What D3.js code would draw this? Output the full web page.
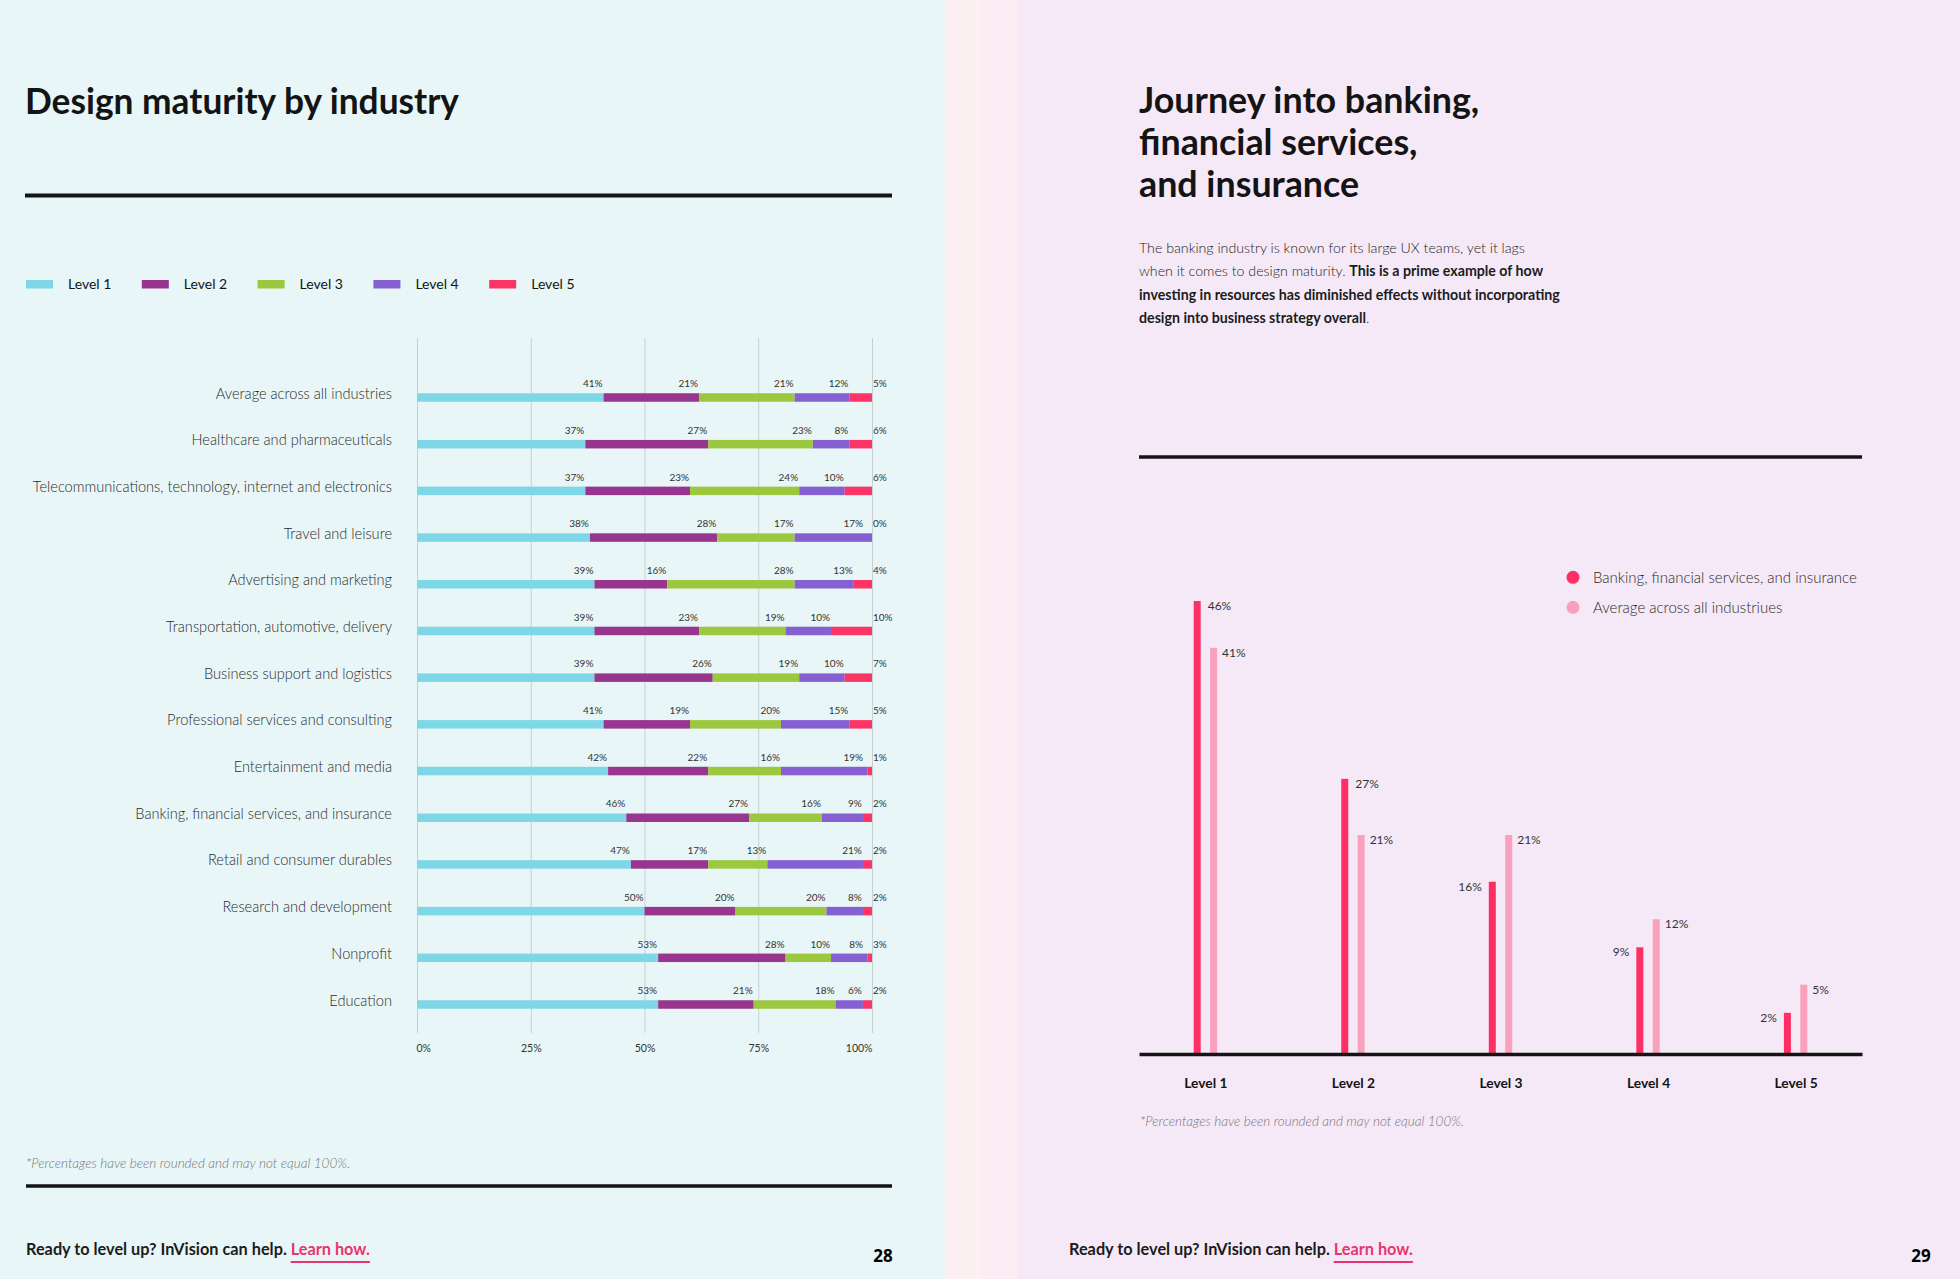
<!DOCTYPE html>
<html lang="en">
<head>
    <meta charset="UTF-8">
    <title>Design maturity by industry</title>
    <script src="https://d3js.org/d3.v7.min.js"></script>
    <style>
        body { margin: 0; overflow: hidden; background: #e8f6f7; }
        svg { display: block; font-family: Lato, "Open Sans", sans-serif; }
    </style>
</head>
<body>
    <div id="container"></div>
    <script>
        // ---- left page data ----
        const levels = ["Level 1", "Level 2", "Level 3", "Level 4", "Level 5"];
        const levelColors = ["#7ed7e6", "#98358f", "#9bc83f", "#8560d2", "#fd3466"];
        const industries = [
            "Average across all industries",
            "Healthcare and pharmaceuticals",
            "Telecommunications, technology, internet and electronics",
            "Travel and leisure",
            "Advertising and marketing",
            "Transportation, automotive, delivery",
            "Business support and logistics",
            "Professional services and consulting",
            "Entertainment and media",
            "Banking, financial services, and insurance",
            "Retail and consumer durables",
            "Research and development",
            "Nonprofit",
            "Education"
        ];
        const level1 = [41, 37, 37, 38, 39, 39, 39, 41, 42, 46, 47, 50, 53, 53];
        const level2 = [21, 27, 23, 28, 16, 23, 26, 19, 22, 27, 17, 20, 28, 21];
        const level3 = [21, 23, 24, 17, 28, 19, 19, 20, 16, 16, 13, 20, 10, 18];
        const level4 = [12, 8, 10, 17, 13, 10, 10, 15, 19, 9, 21, 8, 8, 6];
        const level5 = [5, 6, 6, 0, 4, 10, 7, 5, 1, 2, 2, 2, 3, 2];
        const xTicks = [0, 25, 50, 75, 100];

        // ---- right page data ----
        const compareSeries = ["Banking, financial services, and insurance", "Average across all industriues"];
        const compareColors = ["#fe2f65", "#f9a1bc"];
        const bankingValues = [46, 27, 16, 9, 2];
        const averageValues = [41, 21, 21, 12, 5];

        const width = 1960;
        const height = 1279;
        const ink = "#141414";
        const gray = "#333";

        const svg = d3.select("#container")
            .append("svg")
            .attr("width", width)
            .attr("height", height);

        // page backgrounds
        svg.append("rect").attr("width", 945).attr("height", height).attr("fill", "#e8f6f7");
        svg.append("rect").attr("x", 945).attr("width", 36).attr("height", height).attr("fill", "#fdf0f3");
        svg.append("rect").attr("x", 981).attr("width", 36).attr("height", height).attr("fill", "#fcedf4");
        svg.append("rect").attr("x", 1017).attr("width", width - 1017).attr("height", height).attr("fill", "#f6e9f7");

        function rule(x1, x2, y, w) {
            svg.append("line")
                .attr("x1", x1).attr("x2", x2).attr("y1", y).attr("y2", y)
                .attr("stroke", ink).attr("stroke-width", w);
        }

        // ================= LEFT PAGE =================
        svg.append("text")
            .attr("x", 25).attr("y", 114)
            .attr("font-size", 35.3).attr("font-weight", 700).attr("fill", ink)
            .text("Design maturity by industry");
        rule(25, 892, 195.5, 4);

        // legend
        const legend = svg.append("g").selectAll("g")
            .data(levels)
            .join("g")
            .attr("transform", (d, i) => `translate(${26 + i * 115.8},280)`);
        legend.append("rect")
            .attr("width", 27).attr("height", 8.5)
            .attr("fill", (d, i) => levelColors[i]);
        legend.append("text")
            .attr("x", 42).attr("y", 9)
            .attr("font-size", 14).attr("font-weight", 400).attr("fill", ink)
            .text(d => d);

        const rows = industries.map((name, i) => ({
            name,
            values: [level1[i], level2[i], level3[i], level4[i], level5[i]]
        }));
        const series = d3.stack()
            .keys(d3.range(levels.length))
            .value((d, k) => d.values[k])(rows);

        const x = d3.scaleLinear().domain([0, 100]).range([417, 872]).clamp(true);
        const y = d3.scalePoint().domain(industries).range([397.5, 1004.5]);
        const barH = 8.5;

        // grid + axis
        const xAxis = svg.append("g")
            .attr("transform", "translate(0,1033)")
            .call(d3.axisBottom(x)
                .tickValues(xTicks)
                .tickSize(-(1033 - 338))
                .tickPadding(12)
                .tickFormat(d => d + "%"));
        xAxis.select(".domain").remove();
        xAxis.selectAll(".tick line").attr("stroke", "#c6d0d3").attr("stroke-width", 1);
        xAxis.selectAll(".tick text")
            .attr("font-family", "Lato, sans-serif")
            .attr("font-size", 10.5).attr("fill", gray)
            .attr("text-anchor", (d, i) => i === 0 ? "start" : i === xTicks.length - 1 ? "end" : "middle")
            .attr("dx", (d, i) => i === 0 ? -1 : 0);

        // category labels
        svg.append("g").selectAll("text")
            .data(industries)
            .join("text")
            .attr("x", 392)
            .attr("y", d => y(d) + 1)
            .attr("text-anchor", "end")
            .attr("font-size", 14.6).attr("font-weight", 300).attr("fill", "#2a2a2a")
            .text(d => d);

        // stacked segments
        const layer = svg.append("g").selectAll("g")
            .data(series)
            .join("g")
            .attr("fill", (s, k) => levelColors[k]);
        layer.selectAll("rect")
            .data(s => s)
            .join("rect")
            .attr("x", d => x(d[0]))
            .attr("y", d => y(d.data.name) - barH / 2)
            .attr("width", d => Math.max(0, x(d[1]) - x(d[0])))
            .attr("height", barH);

        // segment value labels (level 5 sits past the 100% line)
        layer.selectAll("text")
            .data((s, k) => s.map(d => ({ d, k })))
            .join("text")
            .attr("x", o => o.k < 4 ? Math.min(x(o.d[1]) - 1, x(100) - 9) : x(100) + 1)
            .attr("y", o => y(o.d.data.name) - barH / 2 - 6)
            .attr("text-anchor", o => o.k < 4 ? "end" : "start")
            .attr("font-size", 10).attr("fill", gray)
            .text(o => o.d.data.values[o.k] + "%");

        svg.append("text")
            .attr("x", 26).attr("y", 1168)
            .attr("font-size", 13.5).attr("font-style", "italic").attr("font-weight", 300)
            .attr("fill", "#777")
            .text("*Percentages have been rounded and may not equal 100%.");
        rule(26, 892, 1186, 3.5);

        // ================= RIGHT PAGE =================
        const titleLines = ["Journey into banking,", "financial services,", "and insurance"];
        svg.append("text")
            .attr("font-size", 35.8).attr("font-weight", 700).attr("fill", ink)
            .selectAll("tspan")
            .data(titleLines)
            .join("tspan")
            .attr("x", 1139)
            .attr("y", (d, i) => 113 + i * 41.8)
            .text(d => d);

        // body copy: [text, bold]
        const bodyLines = [
            [["The banking industry is known for its large UX teams, yet it lags", false]],
            [["when it comes to design maturity. ", false], ["This is a prime example of how", true]],
            [["investing in resources has diminished effects without incorporating", true]],
            [["design into business strategy overall", true], [".", false]]
        ];
        const body = svg.append("g");
        bodyLines.forEach((parts, i) => {
            const t = body.append("text")
                .attr("x", 1139).attr("y", 253 + i * 23.3)
                .attr("font-size", 14.2).attr("fill", "#1c1c1c");
            parts.forEach(([s, b]) => {
                t.append("tspan")
                    .attr("font-weight", b ? 700 : 300)
                    .text(s);
            });
        });
        rule(1139, 1862, 457, 3.5);

        // legend
        const legend2 = svg.append("g").selectAll("g")
            .data(compareSeries)
            .join("g")
            .attr("transform", (d, i) => `translate(1573,${577.3 + i * 30})`);
        legend2.append("circle")
            .attr("r", 6.5)
            .attr("fill", (d, i) => compareColors[i]);
        legend2.append("text")
            .attr("x", 20).attr("y", 5.2)
            .attr("font-size", 15).attr("font-weight", 300).attr("fill", "#2a2a2a")
            .text(d => d);

        const baseY = 1054;
        const xb = d3.scalePoint().domain(levels).range([1139, 1862]).padding(0.45);
        const yb = d3.scaleLinear().domain([-2.4, 46]).range([baseY, 601]);
        const bw = 7;
        const off = 8.2;

        const groups = levels.map((l, i) => ({ level: l, bank: bankingValues[i], avg: averageValues[i] }));

        const bars = svg.append("g");
        bars.selectAll("rect.bank")
            .data(groups)
            .join("rect")
            .attr("class", "bank")
            .attr("x", d => xb(d.level) - off - bw / 2)
            .attr("y", d => yb(d.bank))
            .attr("width", bw)
            .attr("height", d => baseY - yb(d.bank))
            .attr("fill", compareColors[0]);
        bars.selectAll("rect.avg")
            .data(groups)
            .join("rect")
            .attr("class", "avg")
            .attr("x", d => xb(d.level) + off - bw / 2)
            .attr("y", d => yb(d.avg))
            .attr("width", bw)
            .attr("height", d => baseY - yb(d.avg))
            .attr("fill", compareColors[1]);

        bars.selectAll("text.bank")
            .data(groups)
            .join("text")
            .attr("class", "bank")
            .attr("x", d => d.bank >= d.avg ? xb(d.level) - off + bw / 2 + 7 : xb(d.level) - off - bw / 2 - 7)
            .attr("y", d => yb(d.bank) + 9)
            .attr("text-anchor", d => d.bank >= d.avg ? "start" : "end")
            .attr("font-size", 12).attr("fill", gray)
            .text(d => d.bank + "%");
        bars.selectAll("text.avg")
            .data(groups)
            .join("text")
            .attr("class", "avg")
            .attr("x", d => xb(d.level) + off + bw / 2 + 5)
            .attr("y", d => yb(d.avg) + 9)
            .attr("font-size", 12).attr("fill", gray)
            .text(d => d.avg + "%");

        const bAxis = svg.append("g")
            .attr("transform", `translate(0,${baseY})`)
            .call(d3.axisBottom(xb).tickSize(0).tickSizeOuter(0).tickPadding(24.5));
        bAxis.select(".domain").attr("stroke", ink).attr("stroke-width", 3.5);
        bAxis.selectAll(".tick text")
            .attr("font-family", "Lato, sans-serif")
            .attr("font-size", 13.8).attr("font-weight", 700).attr("fill", ink);

        svg.append("text")
            .attr("x", 1140).attr("y", 1126)
            .attr("font-size", 13.5).attr("font-style", "italic").attr("font-weight", 300)
            .attr("fill", "#7a7480")
            .text("*Percentages have been rounded and may not equal 100%.");

        // ================= FOOTERS =================
        function footer(x0) {
            const t = svg.append("text")
                .attr("x", x0).attr("y", 1255)
                .attr("font-size", 16.3).attr("font-weight", 700).attr("fill", "#1c1c1c");
            t.append("tspan").text("Ready to level up? InVision can help. ");
            const link = t.append("tspan").attr("fill", "#e8356d").text("Learn how.");
            const bb = link.node().getComputedTextLength();
            const full = t.node().getComputedTextLength();
            svg.append("line")
                .attr("x1", x0 + full - bb).attr("x2", x0 + full)
                .attr("y1", 1262).attr("y2", 1262)
                .attr("stroke", "#e8356d").attr("stroke-width", 2);
        }
        footer(26);
        footer(1069);

        svg.append("text")
            .attr("x", 883).attr("y", 1262).attr("text-anchor", "middle")
            .attr("font-family", "'Open Sans', sans-serif")
            .attr("font-size", 17).attr("font-weight", 700).attr("fill", "#000")
            .text("28");
        svg.append("text")
            .attr("x", 1921).attr("y", 1262).attr("text-anchor", "middle")
            .attr("font-family", "'Open Sans', sans-serif")
            .attr("font-size", 17).attr("font-weight", 700).attr("fill", "#000")
            .text("29");
    </script>
</body>
</html>
